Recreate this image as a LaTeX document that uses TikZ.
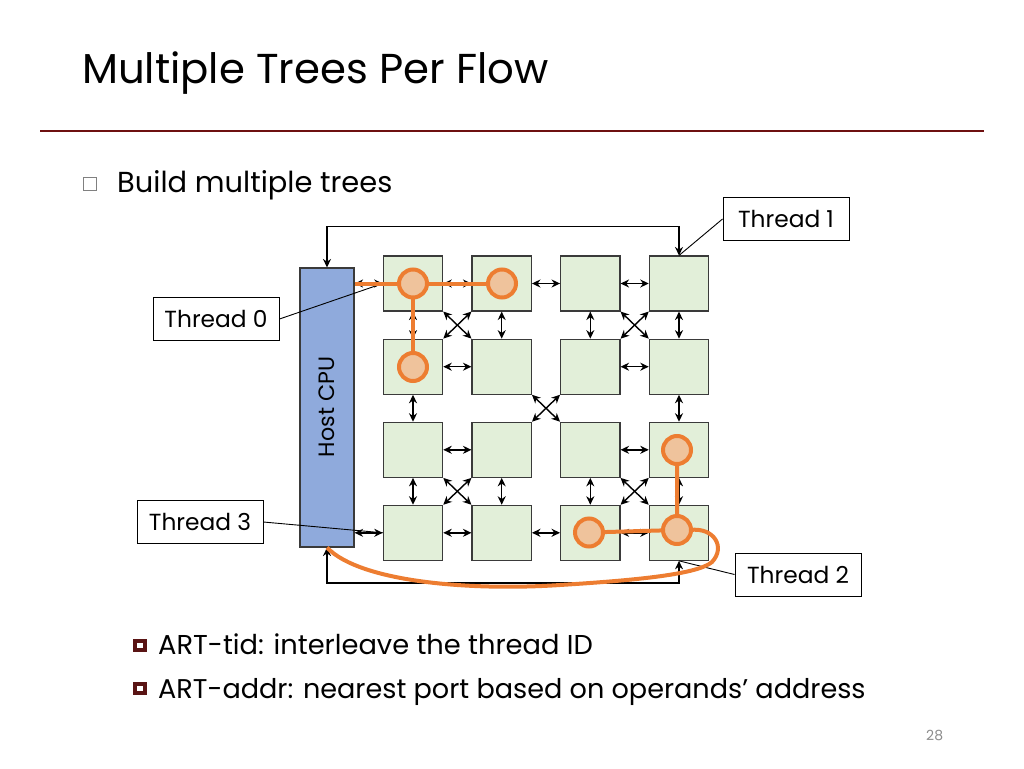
\documentclass[tikz,border=0pt]{standalone}
\usepackage{fontspec}
\setmainfont{Poppins}
\usetikzlibrary{arrows.meta,calc}
\definecolor{sqfill}{HTML}{E2EFD9}
\definecolor{sqdraw}{HTML}{3A3A3A}
\definecolor{cpufill}{HTML}{8FAADC}
\definecolor{orng}{HTML}{ED7D31}
\definecolor{peach}{HTML}{EFC39C}
\definecolor{rulered}{HTML}{6E1010}
\definecolor{bulred}{HTML}{5A1414}
\definecolor{pgray}{HTML}{8C8C8C}
\tikzset{
  sq/.style={draw=sqdraw, fill=sqfill, line width=1.1pt, minimum width=59.4pt, minimum height=55pt, inner sep=0pt},
  dbl/.style={{Stealth[length=8.5pt,width=8pt]}-{Stealth[length=8.5pt,width=8pt]}, line width=1.4pt, black},
  thr/.style={draw=black, line width=1pt, fill=white, minimum width=126pt, minimum height=43pt, inner sep=0pt, font=\fontsize{23.3}{26}\selectfont},
  leader/.style={line width=0.9pt, black},
  oline/.style={draw=orng, line width=4pt},
  ocirc/.style={circle, draw=orng, fill=peach, line width=4pt, minimum size=28pt, inner sep=0pt},
  txt/.style={anchor=base west, inner sep=0pt},
}
\begin{document}
\begin{tikzpicture}[x=1pt,y=-1pt]
\useasboundingbox (0,0) rectangle (1024,768);
% title and rule
\node[txt, font=\fontsize{41.8}{48}\selectfont] (title) at (82,83) {Multiple Trees Per Flow};
\coordinate (rl) at (40,131);
\coordinate (rr) at (984,131);
\draw[rulered, line width=2.5pt] (rl) -- (rr);
% main bullet
\node[draw=gray, line width=1pt, minimum size=13pt, inner sep=0pt] (b0) at (90,184) {};
\node[txt, font=\fontsize{28.9}{34}\selectfont] (l0) at (117,192) {Build multiple trees};
% host CPU
\node[draw=sqdraw, fill=cpufill, line width=1.1pt, minimum width=54pt, minimum height=279pt, inner sep=0pt] (cpu) at (327,407.5) {};
\node[rotate=90, font=\fontsize{22.2}{25}\selectfont, inner sep=0pt] (cpul) at (327,407) {Host CPU};
% squares
\foreach \r/\y in {1/283.5,2/366.7,3/449.8,4/532.8}{
  \foreach \c/\x in {1/413,2/501.7,3/590.3,4/679}{
    \node[sq] (s\r\c) at (\x,\y) {};
  }
}
% horizontal arrows
\foreach \r in {1,2,3,4}{
  \draw[dbl] (s\r1.east) -- (s\r2.west);
  \draw[dbl] (s\r3.east) -- (s\r4.west);
}
\draw[dbl] (s12.east) -- (s13.west);
\draw[dbl] (s42.east) -- (s43.west);
\draw[dbl] (cpu.east |- s11) -- (s11.west);
\draw[dbl] (cpu.east |- s41) -- (s41.west);
% vertical arrows
\foreach \c in {1,2,3,4}{
  \draw[dbl] (s1\c.south) -- (s2\c.north);
  \draw[dbl] (s3\c.south) -- (s4\c.north);
}
\draw[dbl] (s21.south) -- (s31.north);
\draw[dbl] (s24.south) -- (s34.north);
% crosses
\draw[dbl] (s11.south east) -- (s22.north west);
\draw[dbl] (s12.south west) -- (s21.north east);
\draw[dbl] (s13.south east) -- (s24.north west);
\draw[dbl] (s14.south west) -- (s23.north east);
\draw[dbl] (s22.south east) -- (s33.north west);
\draw[dbl] (s23.south west) -- (s32.north east);
\draw[dbl] (s31.south east) -- (s42.north west);
\draw[dbl] (s32.south west) -- (s41.north east);
\draw[dbl] (s33.south east) -- (s44.north west);
\draw[dbl] (s34.south west) -- (s43.north east);
% loops to host
\coordinate (toprt) at (s14.north |- 0,226.5);
\coordinate (botrt) at (s44.south |- 0,583);
\draw[dbl] (cpu.north) |- (toprt) -- (s14.north);
\draw[dbl] (cpu.south) |- (botrt) -- (s44.south);
% thread labels
\node[thr] (t1) at (786,219) {Thread 1};
\node[thr] (t0) at (216,319) {Thread 0};
\node[thr] (t3) at (200,522) {Thread 3};
\node[thr] (t2) at (798,574.5) {Thread 2};
\draw[leader] (t1.west) -- (s14.north);
\draw[leader] (t0.east) -- (s11.west);
\draw[leader] (t3.east) -- (s41.west);
\draw[leader] (t2.west) -- (s44.south);
% orange trees
\coordinate (p1) at (413,283.5);
\coordinate (p2) at (502,283.5);
\coordinate (p3) at (413,367);
\coordinate (p4) at (677,450);
\coordinate (p5) at (677,530);
\coordinate (p6) at (589,532.5);
\draw[oline] (cpu.east |- p1) -- (p1) -- (p2);
\draw[oline] (p1) -- (p3);
\draw[oline] (p4) -- (p5) -- (p6);
\draw[oline] (p5) -- (690,530) .. controls (714,527) and (726,547) .. (712,562) .. controls (698,574) and (640,580) .. (560,585) .. controls (470,591) and (360,582) .. (cpu.south);
\foreach \i in {1,...,6}{ \node[ocirc] (c\i) at (p\i) {}; }
% sub bullets
\node[draw=bulred, line width=4pt, minimum size=9.4pt, inner sep=0pt, fill=white] (b1) at (140,645.5) {};
\node[draw=bulred, line width=4pt, minimum size=9.4pt, inner sep=0pt, fill=white] (b2) at (140,688.5) {};
\node[txt, font=\fontsize{27.3}{32}\selectfont] (l1) at (158,654) {ART-tid: interleave the thread ID};
\node[txt, font=\fontsize{27.1}{32}\selectfont] (l2) at (158,698) {ART-addr: nearest port based on operands’ address};
% page number
\node[txt, font=\fontsize{14}{16}\selectfont, text=pgray] (pg) at (926,740) {28};
\end{tikzpicture}
\end{document}
